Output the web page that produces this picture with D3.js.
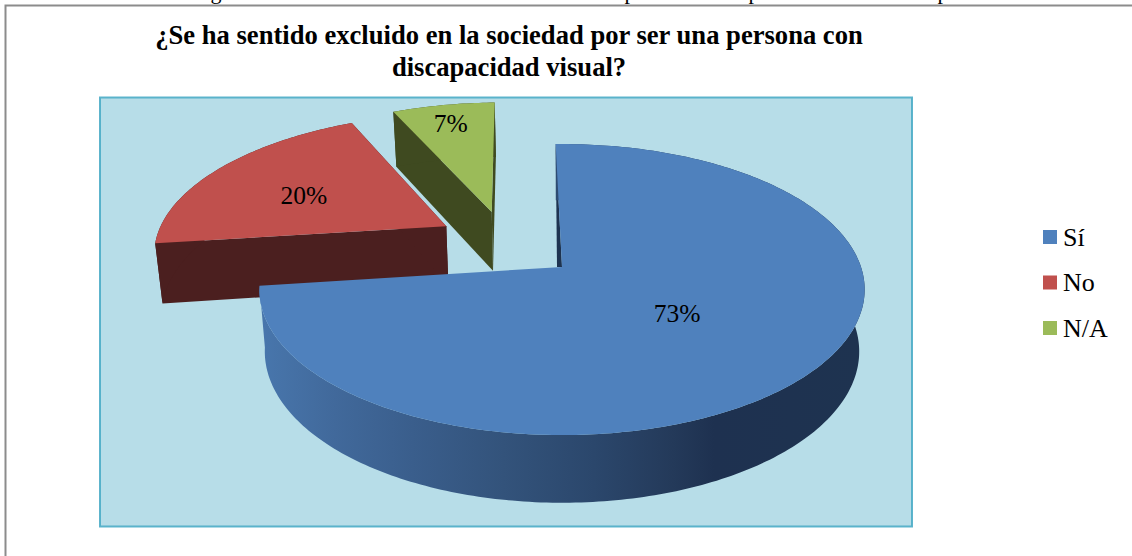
<!DOCTYPE html>
<html><head><meta charset="utf-8">
<script src="https://cdn.jsdelivr.net/npm/d3@7"></script>
<style>html,body{margin:0;padding:0;background:#fff}svg{display:block}text{font-family:"Liberation Serif",serif;fill:#000}</style>
</head><body><div id="c"></div>
<script>
const categories = ["Sí","No","N/A"];
const values = [73.33,20,6.67];
const colors = ["#4f81bd","#c0504d","#9bbb59"];
const titleLines = ["¿Se ha sentido excluido en la sociedad por ser una persona con","discapacidad visual?"];
const clippedCaption = [["g",216],["p",630],["p",754],["p",943]];

const W=1132,H=556;
const svg=d3.select("#c").append("svg").attr("width",W).attr("height",H);

// perspective model of the tilted disc
const cx=562,cy=267,R=299,RT=142,k=0.155,D=61,shrink=0.018;
function project(X,Z,h){
  const s=1/(1+k*Z);
  return [cx+R*X*s*(1-shrink*h), cy-RT*Z*s+h*D*(1+0.6*(s-1))];
}
const offsets=[[0,0],[-0.405,0.30],[-0.25,0.412]];
const labelR=[0.47,0.585,0.81];
const labelShift=[[3,1],[-6,4],[-1,0]];
const start=-1.4*Math.PI/180;
const arcs=d3.pie().sort(null).startAngle(start).endAngle(start+2*Math.PI)(values);
const line=d3.line();
function rim(d,i,h){
  const n=Math.max(8,Math.ceil((d.endAngle-d.startAngle)*60));
  const [ox,oz]=offsets[i];
  return d3.range(n+1).map(j=>{
    const a=d.startAngle+(d.endAngle-d.startAngle)*j/n;
    return project(ox+Math.sin(a),oz+Math.cos(a),h);
  });
}

// plot area
svg.append("rect").attr("x",100).attr("y",97.5).attr("width",812).attr("height",429)
  .attr("fill","#b7dde8").attr("stroke","#4bacc6").attr("stroke-width",2).attr("stroke-opacity",.9);

// side gradient for the big slice
const defs=svg.append("defs");
const g=defs.append("linearGradient").attr("id","side").attr("gradientUnits","userSpaceOnUse")
  .attr("x1",262).attr("x2",865).attr("y1",0).attr("y2",0);
[[0,"#4876ac"],[.12,"#41699b"],[.25,"#3a5e8c"],[.4,"#33537b"],[.55,"#2b476c"],[.68,"#243a5a"],[.75,"#1e3150"],[1,"#1e3350"]]
  .forEach(([o,c])=>g.append("stop").attr("offset",o).attr("stop-color",c));
const sideFill=["url(#side)","#4b1f1f","#3f4a20"];

// draw back-to-front: green, red, blue
[2,1,0].forEach(i=>{
  const d=arcs[i],[ox,oz]=offsets[i];
  const top=rim(d,i,0),bot=rim(d,i,1);
  const apexT=project(ox,oz,0),apexB=project(ox,oz,1);
  const grp=svg.append("g");
  if(i>0){
    grp.append("path").attr("d",line([apexT,top[0],bot[0],apexB])+"Z").attr("fill",sideFill[i]);
    grp.append("path").attr("d",line([apexT,top[top.length-1],bot[bot.length-1],apexB])+"Z").attr("fill",sideFill[i]);
  } else {
    grp.append("path").attr("d",line([top[0],apexT,project(ox-0.0167,oz,0)])+"Z").attr("fill","#1e3350");
  }
  grp.append("path").attr("d",line(top.concat(bot.slice().reverse()))+"Z").attr("fill",sideFill[i]);
  grp.append("path").attr("d",line([apexT].concat(top))+"Z").attr("fill",colors[i]);
});

// data labels
arcs.forEach((d,i)=>{
  const a=(d.startAngle+d.endAngle)/2,[ox,oz]=offsets[i];
  const p=project(ox+labelR[i]*Math.sin(a),oz+labelR[i]*Math.cos(a),0);
  svg.append("text").attr("x",p[0]+labelShift[i][0]).attr("y",p[1]+8.5+labelShift[i][1]).attr("text-anchor","middle")
    .attr("font-size",25.5).text(d3.format(".0f")(d.value)+"%");
});

// outer frame
svg.append("path").attr("d","M5.5,556V5.5H1132").attr("fill","none").attr("stroke","#8c8c8c").attr("stroke-width",2);

// clipped caption descenders
clippedCaption.forEach(([t,x])=>svg.append("text").attr("x",x).attr("y",-1).attr("text-anchor","middle").attr("font-size",22).text(t));

// title
titleLines.forEach((t,i)=>svg.append("text").attr("x",509).attr("y",43.5+i*32).attr("text-anchor","middle")
  .attr("font-size",26.6).attr("font-weight","bold").text(t));

// legend
const ly=d3.scalePoint().domain(categories).range([237,328]);
categories.forEach((c,i)=>{
  svg.append("rect").attr("x",1043).attr("y",ly(c)-7).attr("width",14).attr("height",14).attr("fill",colors[i]);
  svg.append("text").attr("x",1063).attr("y",ly(c)+8.5).attr("font-size",26).text(c);
});
</script></body></html>
